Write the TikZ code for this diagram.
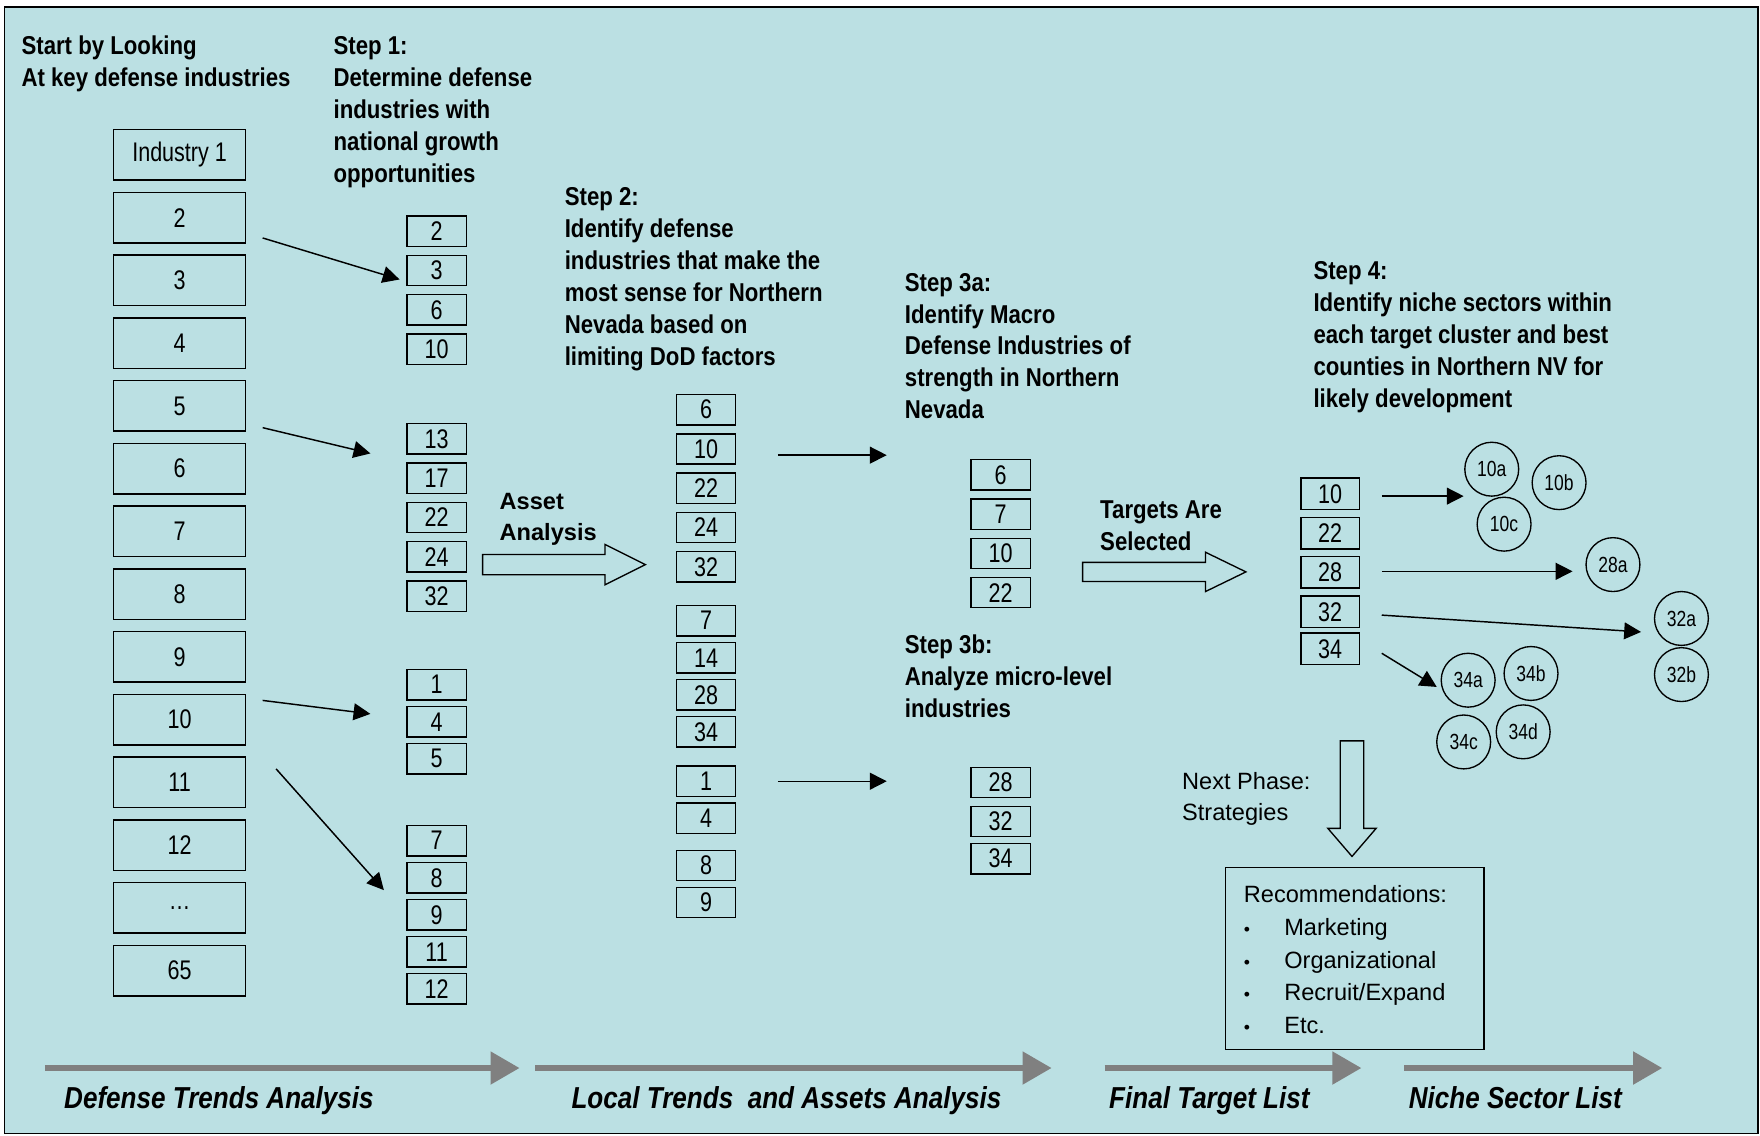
\documentclass[tikz,border=0pt]{standalone}
\usepackage{fontspec}
\setmainfont{Liberation Sans}[FakeStretch=0.86]
\newfontfamily\widefont{Liberation Sans}
\newfontfamily\numfont{Liberation Sans}[FakeStretch=0.8]
\usetikzlibrary{arrows.meta}
\definecolor{panel}{RGB}{187,224,227}
\definecolor{bargray}{RGB}{128,128,128}
\tikzstyle{indbox} = [rectangle, draw=black, line width=1.2pt, minimum width=118pt, minimum height=45pt, inner sep=0pt, font=\numfont\fontsize{24}{26}\selectfont]
\tikzstyle{numbox} = [rectangle, draw=black, line width=1.2pt, minimum width=53pt, minimum height=27pt, inner sep=0pt, font=\numfont\fontsize{24}{26}\selectfont]
\tikzstyle{niche} = [circle, draw=black, line width=1.2pt, minimum size=48pt, inner sep=0pt, font=\numfont\fontsize{19.5}{20}\selectfont]
\tikzstyle{heading} = [anchor=north west, align=left, inner sep=0pt, font=\bfseries\fontsize{23}{28.5}\selectfont]
\tikzstyle{phase} = [anchor=base west, inner sep=0pt, font=\bfseries\itshape\fontsize{27}{30}\selectfont]
\tikzstyle{arrow} = [line width=1.3pt, -{Triangle[length=15pt,width=15pt]}]
\tikzstyle{fatarrow} = [draw=black, line width=1.2pt, fill=panel, line join=miter]
\tikzstyle{phasebar} = [draw=bargray, line width=6pt, -{Triangle[length=26pt,width=28pt]}]

\begin{document}
\begin{tikzpicture}[x=1pt, y=-1pt]
	\useasboundingbox (0,0) rectangle (1568,1012);
	\draw[line width=1.4pt, fill=panel] (4,6) rectangle (1566,1010);

	% headings
	\node (start) [heading] at (19,32) {Start by Looking\\At key defense industries};
	\node (step1) [heading] at (297,32) {Step 1:\\Determine defense\\industries with\\national growth\\opportunities};
	\node (step2) [heading] at (503,167) {Step 2:\\Identify defense\\industries that make the\\most sense for Northern\\Nevada based on\\limiting DoD factors};
	\node (step3a) [heading] at (806,243) {Step 3a:\\Identify Macro\\Defense Industries of\\strength in Northern\\Nevada};
	\node (step3b) [heading] at (806,565) {Step 3b:\\Analyze micro-level\\industries};
	\node (step4) [heading] at (1170,233) {Step 4:\\Identify niche sectors within\\each target cluster and best\\counties in Northern NV for\\likely development};
	\node (targets) [heading] at (980,446) {Targets Are\\Selected};
	\node (asset) [heading, font=\widefont\bfseries\fontsize{21}{28}\selectfont] at (445,439) {Asset\\Analysis};

	% industry list
	\foreach \lab [count=\i] in {Industry 1,2,3,4,5,6,7,8,9,10,11,12,\dots,65}
		\node (ind\i) [indbox] at (160,{138+55.9*(\i-1)}) {\lab};

	% step 1 boxes
	\foreach \lab/\y in {2/206,3/241,6/276,10/311,13/391,17/426,22/461,24/496,32/531,1/610,4/643,5/676,7/749,8/782,9/815,11/848,12/881}
		\node (one-\lab) [numbox] at (389,\y) {\lab};

	% step 2 boxes
	\foreach \lab/\y in {6/365,10/400,22/435,24/470,32/505,7/553,14/586,28/619,34/652,1/696,4/729,8/771,9/804}
		\node (two-\lab) [numbox] at (629,\y) {\lab};

	% step 3 boxes
	\foreach \lab/\y in {6/423,7/458,10/493,22/528,28/697,32/732,34/765}
		\node (three-\lab) [numbox] at (891.5,\y) {\lab};

	% step 4 boxes
	\foreach \lab/\y in {10/440,22/475,28/510,32/545,34/578}
		\node (four-\lab) [numbox, minimum width=52pt, minimum height=28pt] at (1185,\y) {\lab};

	% niche sectors
	\foreach \lab/\x/\y in {10a/1329/418,10b/1389/430,10c/1340/467,28a/1437/503,32a/1498/551,32b/1498/601,34a/1308/606,34b/1364/600,34c/1304/661,34d/1357/652}
		\node (n-\lab) [niche] at (\x,\y) {\lab};

	% arrow ends
	\coordinate (a1) at (234,212); \coordinate (b1) at (356,249);
	\coordinate (a2) at (234,381); \coordinate (b2) at (330,404);
	\coordinate (a3) at (234,624); \coordinate (b3) at (330,636);
	\coordinate (a4) at (246,685); \coordinate (b4) at (342,793);
	\coordinate (a5) at (693,405.5); \coordinate (b5) at (790,405.5);
	\coordinate (a6) at (693,696); \coordinate (b6) at (790,696);
	\coordinate (a7) at (1231,442); \coordinate (b7) at (1304,442);
	\coordinate (a8) at (1231,509); \coordinate (b8) at (1401,509);
	\coordinate (a9) at (1231,548); \coordinate (b9) at (1462,563);
	\coordinate (a10) at (1231,582); \coordinate (b10) at (1280,612);

	\foreach \i in {1,...,10}
		\draw [arrow] (a\i) -- (b\i);

	% block arrows
	\draw [fatarrow] (430,494) -- (539,494) -- (539,485) -- (575,503) -- (539,521) -- (539,512) -- (430,512) -- cycle;
	\draw [fatarrow] (964.5,501) -- (1074,501) -- (1074,492) -- (1110,509.5) -- (1074,527) -- (1074,518) -- (964.5,518) -- cycle;
	\draw [fatarrow] (1194,660) -- (1215,660) -- (1215,738) -- (1226,738) -- (1204.5,763) -- (1183,738) -- (1194,738) -- cycle;

	% next phase
	\node (next) [heading, font=\widefont\fontsize{21}{28}\selectfont] at (1053,688) {Next Phase:\\Strategies};
	\node (recbox) [draw, line width=1.2pt, minimum width=230pt, minimum height=162pt, inner sep=0pt] at (1207,854) {};
	\node (rectext) [heading, font=\widefont\fontsize{21}{29}\selectfont] at (1108,789)
		{Recommendations:\\
		\makebox[36pt][l]{\scalebox{0.75}{\textbullet}}Marketing\\
		\makebox[36pt][l]{\scalebox{0.75}{\textbullet}}Organizational\\
		\makebox[36pt][l]{\scalebox{0.75}{\textbullet}}Recruit/Expand\\
		\makebox[36pt][l]{\scalebox{0.75}{\textbullet}}Etc.};

	% phase bars
	\coordinate (p1) at (40,951.5); \coordinate (q1) at (463,951.5);
	\coordinate (p2) at (477,951.5); \coordinate (q2) at (937,951.5);
	\coordinate (p3) at (984,951.5); \coordinate (q3) at (1213,951.5);
	\coordinate (p4) at (1251,951.5); \coordinate (q4) at (1481,951.5);
	\foreach \i in {1,...,4}
		\draw [phasebar] (p\i) -- (q\i);

	\node (ph1) [phase] at (57,987.5) {Defense Trends Analysis};
	\node (ph2) [phase] at (509,987.5) {Local Trends\ \ and Assets Analysis};
	\node (ph3) [phase] at (988,987.5) {Final Target List};
	\node (ph4) [phase] at (1255,987.5) {Niche Sector List};
\end{tikzpicture}
\end{document}
